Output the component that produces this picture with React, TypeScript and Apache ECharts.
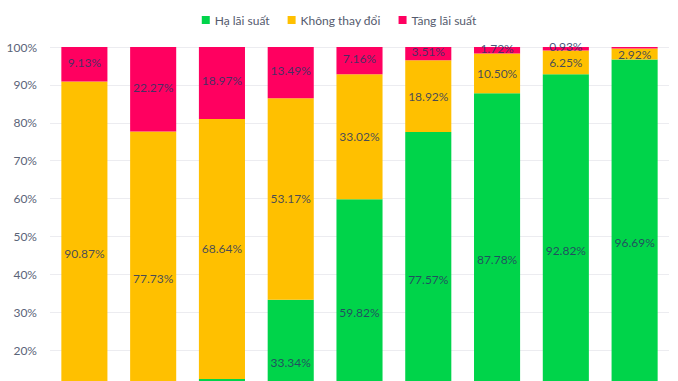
import React, { useEffect, useRef } from "react";
import * as echarts from "echarts";

const categories = ["1", "2", "3", "4", "5", "6", "7", "8", "9"];
const haLaiSuat = [0, 0, 12.39, 33.34, 59.82, 77.57, 87.78, 92.82, 96.69];
const khongThayDoi = [90.87, 77.73, 68.64, 53.17, 33.02, 18.92, 10.5, 6.25, 2.92];
const tangLaiSuat = [9.13, 22.27, 18.97, 13.49, 7.16, 3.51, 1.72, 0.93, 0.39];
const yTicks = [0, 10, 20, 30, 40, 50, 60, 70, 80, 90, 100];

const FONT = "Lato, 'Noto Sans', sans-serif";

export default function App() {
  const ref = useRef<HTMLDivElement>(null);
  useEffect(() => {
    document.body.style.margin = "0";
    if (!ref.current) return;
    const chart = echarts.init(ref.current, undefined, { renderer: "svg" });
    const label = (minShow: number, small?: boolean) => ({
      show: true,
      position: "inside",
      color: "rgba(40,55,100,0.85)",
      fontSize: 12,
      fontFamily: FONT,
      offset: small ? [0, -2] : [0, 0],
      formatter: (p: any) => (p.value > minShow ? p.value.toFixed(2) + "%" : ""),
    });
    chart.setOption({
      animation: false,
      textStyle: { fontFamily: FONT },
      legend: {
        top: 9,
        left: "center",
        itemWidth: 8,
        itemHeight: 8,
        itemGap: 18,
        icon: "rect",
        textStyle: { color: "#555b6e", fontSize: 12, fontFamily: FONT },
        data: ["Hạ lãi suất", "Không thay đổi", "Tăng lãi suất"],
      },
      grid: { left: 50, right: 9, top: 47, bottom: 20 },
      xAxis: {
        type: "category",
        data: categories,
        axisLine: { show: false },
        axisTick: { show: false },
        axisLabel: { show: false },
      },
      yAxis: {
        type: "value",
        min: yTicks[0],
        max: yTicks[yTicks.length - 1],
        interval: 10,
        axisLabel: {
          formatter: (v: number) => (v >= 20 ? v + "%" : ""),
          color: "#5a6478",
          fontSize: 12,
          fontFamily: FONT,
          margin: 13,
        },
        splitLine: { lineStyle: { color: "#ececf0" } },
        axisLine: { show: false },
        axisTick: { show: false },
      },
      series: [
        {
          name: "Hạ lãi suất",
          type: "bar",
          stack: "total",
          barCategoryGap: "33%",
          data: haLaiSuat,
          itemStyle: { color: "#00d44a" },
          label: label(15),
        },
        {
          name: "Không thay đổi",
          type: "bar",
          stack: "total",
          data: khongThayDoi,
          itemStyle: { color: "#ffc000" },
          label: label(1),
        },
        {
          name: "Tăng lãi suất",
          type: "bar",
          stack: "total",
          data: tangLaiSuat,
          itemStyle: { color: "#ff0060" },
          label: label(0.5, true),
        },
      ],
    });
    return () => chart.dispose();
  }, []);
  return (
    <div style={{ width: 678, height: 381, overflow: "hidden" }}>
      <div ref={ref} style={{ width: 678, height: 446 }} />
    </div>
  );
}
